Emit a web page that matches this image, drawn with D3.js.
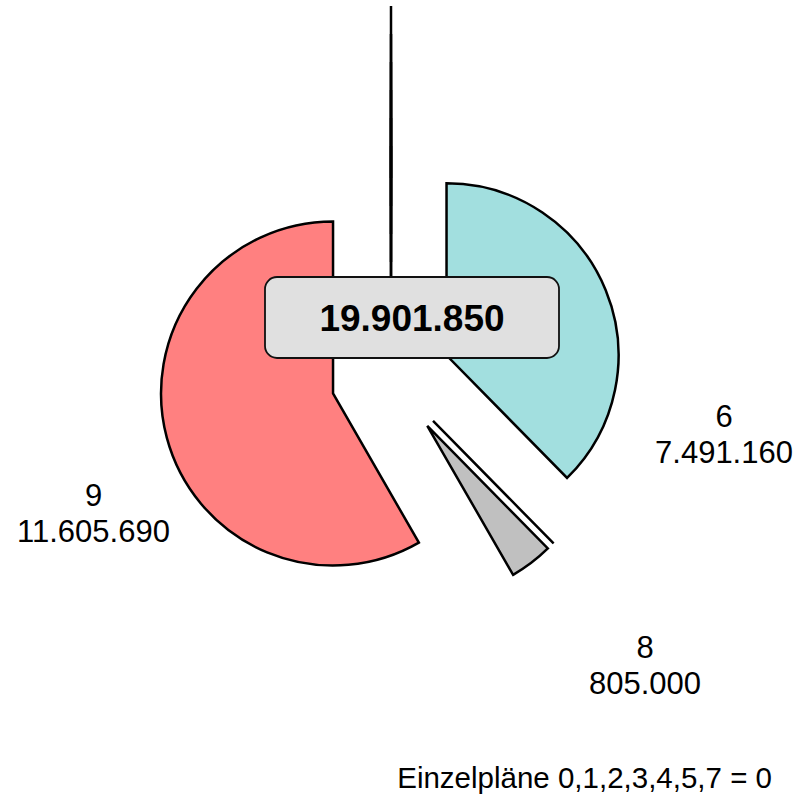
<!DOCTYPE html>
<html lang="de">
<head>
    <meta charset="UTF-8">
    <title>Einzelpläne</title>
    <script src="https://d3js.org/d3.v7.min.js"></script>
    <style>
        body { margin: 0; background: #fff; font-family: "Liberation Sans", Arial, sans-serif; }
        svg { display: block; }
        .slice { stroke: #000; stroke-width: 2.5; stroke-linejoin: miter; }
        .label { font-size: 31px; fill: #000; text-anchor: middle; }
        .total { font-size: 37px; font-weight: bold; text-anchor: middle; }
    </style>
</head>
<body>
    <div id="chart"></div>

    <script>
        // Einzelpläne und Beträge
        const plans = ["0", "1", "2", "3", "4", "5", "6", "7", "8", "9"];
        const amounts = [0, 0, 0, 0, 0, 0, 7491160, 0, 805000, 11605690];
        const sliceColors = {"6": "#a2dfdf", "8": "#c0c0c0", "9": "#ff8080"};

        // layout
        const width = 800, height = 799;
        const cx = 391, cy = 378;
        const radius = 172;
        const explode = 60;        // slice offset from centre
        const zeroStep = 28;       // extra offset for stacked zero slices
        const labelOffsets = {"6": [333, 58], "8": [254, 289], "9": [-297.5, 137]};

        const de = d3.formatLocale({decimal: ",", thousands: ".", grouping: [3], currency: ["", " €"]});
        const fmt = de.format(",d");

        const data = plans.map((p, i) => ({plan: p, value: amounts[i]}));
        const total = d3.sum(amounts);

        const svg = d3.select("#chart")
            .append("svg")
            .attr("width", width)
            .attr("height", height);

        const g = svg.append("g")
            .attr("transform", `translate(${cx},${cy})`);

        const pie = d3.pie()
            .sort(null)
            .value(d => d.value);

        const arc = d3.arc()
            .innerRadius(0)
            .outerRadius(radius);

        const arcs = pie(data);

        // zero slices sharing the same angle get pushed out a bit further each
        const seen = {};
        arcs.forEach(a => {
            if (a.data.value === 0) {
                const key = a.startAngle.toFixed(6);
                seen[key] = (seen[key] || 0);
                a.offset = explode + seen[key] * zeroStep;
                seen[key] += 1;
            } else {
                a.offset = explode;
            }
            a.mid = (a.startAngle + a.endAngle) / 2;
        });

        // draw the zero slices first (deepest first), then the real ones
        const order = arcs.slice().sort((a, b) => (a.data.value === 0 ? 0 : 1) - (b.data.value === 0 ? 0 : 1) || b.offset - a.offset);

        g.selectAll(".slice")
            .data(order)
            .enter().append("path")
            .attr("class", "slice")
            .attr("transform", d => `translate(${Math.sin(d.mid) * d.offset},${-Math.cos(d.mid) * d.offset})`)
            .attr("fill", d => sliceColors[d.data.plan] || "none")
            .attr("d", arc);

        // labels for non-zero slices
        const labels = g.selectAll(".label")
            .data(arcs.filter(d => d.data.value > 0))
            .enter().append("text")
            .attr("class", "label")
            .attr("transform", d => `translate(${labelOffsets[d.data.plan][0]},${labelOffsets[d.data.plan][1]})`);

        labels.append("tspan")
            .attr("x", 0)
            .attr("y", -9)
            .text(d => d.data.plan);

        labels.append("tspan")
            .attr("x", 0)
            .attr("y", 27)
            .text(d => fmt(d.data.value));

        // total box
        const box = g.append("g")
            .attr("transform", "translate(21,-60.5)");

        box.append("rect")
            .attr("x", -147)
            .attr("y", -40.5)
            .attr("width", 294)
            .attr("height", 81)
            .attr("rx", 12)
            .attr("ry", 12)
            .attr("fill", "#e0e0e0")
            .attr("stroke", "#111")
            .attr("stroke-width", 1.8);

        box.append("text")
            .attr("class", "total")
            .attr("y", 13.5)
            .text(fmt(total));

        // note for empty plans
        const zeroPlans = data.filter(d => d.value === 0).map(d => d.plan);
        svg.append("text")
            .attr("x", 772)
            .attr("y", 788)
            .attr("text-anchor", "end")
            .style("font-size", "29.5px")
            .text(`Einzelpläne ${zeroPlans.join(",")} = 0`);
    </script>
</body>
</html>
